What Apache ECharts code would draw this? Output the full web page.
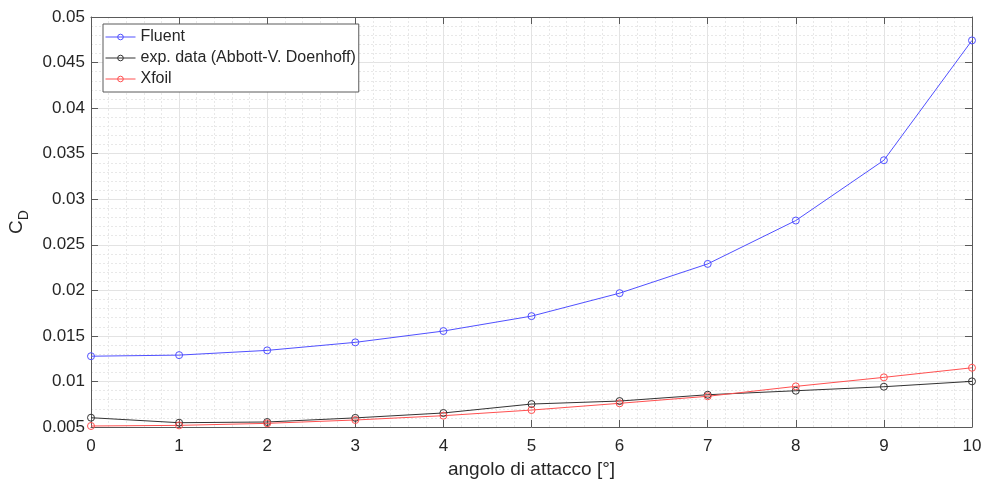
<!DOCTYPE html>
<html>
<head>
<meta charset="utf-8">
<script src="https://cdn.jsdelivr.net/npm/echarts@6/dist/echarts.min.js"></script>
<style>
  html, body { margin: 0; padding: 0; background: #ffffff; }
  #chart { width: 985px; height: 483px; }
</style>
</head>
<body>
<div id="chart"></div>
<script>
// Drag coefficient vs angle of attack
const angles = [0, 1, 2, 3, 4, 5, 6, 7, 8, 9, 10];
const fluent = [0.01277, 0.01289, 0.01341, 0.01429, 0.01553, 0.01717, 0.01969, 0.02290, 0.02766, 0.03428, 0.04743];
const expData = [0.00602, 0.00547, 0.00555, 0.00600, 0.00654, 0.00752, 0.00785, 0.00854, 0.00898, 0.00942, 0.01001];
const xfoil = [0.00511, 0.00518, 0.00540, 0.00577, 0.00624, 0.00686, 0.00760, 0.00837, 0.00946, 0.01045, 0.01150];

const seriesNames = ['Fluent', 'exp. data (Abbott-V. Doenhoff)', 'Xfoil'];
const xLabel = 'angolo di attacco [°]';

const FONT = 'Liberation Sans, Arial, Helvetica, sans-serif';
const TEXT = '#262626';
const AXIS = '#5a5a5a';
const CLEAR = 'rgba(255,255,255,0)';

const pairs = ys => angles.map((a, i) => [a, ys[i]]);

// open circle markers with a thin outline, line visible through them
const makeSeries = (name, ys, color) => ({
  name: name,
  type: 'line',
  data: pairs(ys),
  symbol: 'circle',
  symbolSize: 7,
  showSymbol: true,
  lineStyle: { color: color, width: 1 },
  itemStyle: { color: CLEAR, borderColor: color, borderWidth: 1 },
  emphasis: { disabled: true },
  animation: false,
  z: 3
});

const chart = echarts.init(document.getElementById('chart'), null, { renderer: 'canvas' });

const baseX = {
  type: 'value', min: 0, max: 10, interval: 1,
  axisLine: { show: true, onZero: false, lineStyle: { color: AXIS, width: 1 } },
  axisTick: { show: true, inside: true, length: 7, lineStyle: { color: AXIS } }
};
const baseY = {
  type: 'value', min: 0.005, max: 0.05, interval: 0.005,
  axisLine: { show: true, onZero: false, lineStyle: { color: AXIS, width: 1 } },
  axisTick: { show: true, inside: true, length: 7, lineStyle: { color: AXIS } }
};

chart.setOption({
  backgroundColor: '#ffffff',
  animation: false,
  grid: { left: 91, right: 13, top: 17, bottom: 56, containLabel: false, outerBoundsMode: 'none' },
  legend: {
    data: seriesNames,
    orient: 'vertical',
    left: 103,
    top: 24,
    padding: [4, 3, 4, 2],
    itemGap: 3,
    itemWidth: 30,
    itemHeight: 7,
    itemStyle: { color: CLEAR, borderWidth: 1 },
    lineStyle: { width: 1 },
    backgroundColor: '#ffffff',
    borderColor: '#5a5a5a',
    borderWidth: 1,
    textStyle: { fontFamily: FONT, fontSize: 16, color: TEXT, lineHeight: 18 }
  },
  xAxis: [
    Object.assign({}, baseX, {
      position: 'bottom',
      name: xLabel,
      nameLocation: 'middle',
      nameGap: 30,
      nameTextStyle: { fontFamily: FONT, fontSize: 19, color: TEXT },
      axisLabel: { show: true, margin: 11, fontFamily: FONT, fontSize: 17, color: TEXT },
      splitLine: { show: true, lineStyle: { color: '#e3e3e3', width: 1 } },
      minorTick: { show: false, splitNumber: 5 },
      minorSplitLine: { show: true, lineStyle: { color: '#e8e8e8', width: 1, type: [2, 2] } }
    }),
    Object.assign({}, baseX, {
      position: 'top',
      axisLabel: { show: false },
      splitLine: { show: false }
    })
  ],
  yAxis: [
    Object.assign({}, baseY, {
      position: 'left',
      name: '{c|C}{d|D}',
      nameLocation: 'middle',
      nameRotate: 90,
      nameGap: 60,
      nameTextStyle: {
        fontFamily: FONT, color: TEXT,
        rich: {
          c: { fontFamily: FONT, fontSize: 19, color: TEXT },
          d: { fontFamily: FONT, fontSize: 14, color: TEXT, padding: [14, 0, 0, 0] }
        }
      },
      axisLabel: {
        show: true, margin: 6, fontFamily: FONT, fontSize: 17, color: TEXT,
        formatter: v => String(+v.toFixed(3))
      },
      splitLine: { show: true, lineStyle: { color: '#e3e3e3', width: 1 } },
      minorTick: { show: false, splitNumber: 5 },
      minorSplitLine: { show: true, lineStyle: { color: '#e8e8e8', width: 1, type: [2, 2] } }
    }),
    Object.assign({}, baseY, {
      position: 'right',
      axisLabel: { show: false },
      splitLine: { show: false }
    })
  ],
  series: [
    makeSeries(seriesNames[0], fluent, '#5050ff'),
    makeSeries(seriesNames[1], expData, '#333333'),
    makeSeries(seriesNames[2], xfoil, '#ff5050')
  ]
});
</script>
</body>
</html>
